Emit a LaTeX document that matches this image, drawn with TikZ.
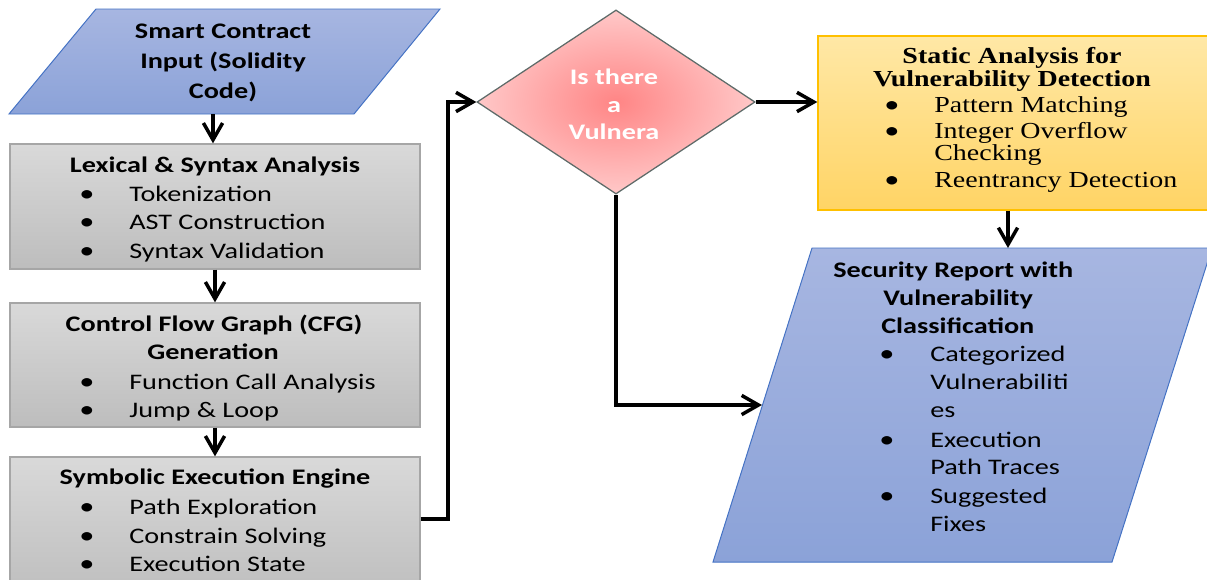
\documentclass[tikz,border=0pt]{standalone}
\usepackage{fontspec}
\usetikzlibrary{shapes.geometric,arrows.meta,calc}
\newfontfamily\cbfont[FakeStretch=1.27]{Carlito}
\newfontfamily\trfont[FakeStretch=1.22]{Liberation Serif}
\definecolor{blueA}{HTML}{A7B6E1}
\definecolor{blueB}{HTML}{8BA2D8}
\definecolor{blueE}{HTML}{4472C4}
\definecolor{grayA}{HTML}{D9D9D9}
\definecolor{grayB}{HTML}{BDBDBD}
\definecolor{grayE}{HTML}{A6A6A6}
\definecolor{pinkI}{HTML}{FF8585}
\definecolor{pinkO}{HTML}{FFC8C8}
\definecolor{pinkE}{HTML}{5E6B69}
\definecolor{goldA}{HTML}{FFE8A6}
\definecolor{goldB}{HTML}{FFD465}
\definecolor{goldE}{HTML}{FFC000}
\begin{document}
\begin{tikzpicture}[x=0.025cm,y=-0.025cm,
  graybox/.style={rectangle,draw=grayE,line width=0.9pt,top color=grayA,bottom color=grayB,inner sep=0pt,minimum width=10.25cm},
  goldbox/.style={rectangle,draw=goldE,line width=0.9pt,top color=goldA,bottom color=goldB,inner sep=0pt},
  decision/.style={diamond,draw=pinkE,line width=0.9pt,shading=radial,inner color=pinkI,outer color=pinkO,inner sep=0pt},
  inputshape/.style={draw=blueE,line width=0.7pt,top color=blueA,bottom color=blueB},
  arr/.style={line width=2.5pt,-{Straight Barb[length=0.42cm,width=0.48cm,line width=2.5pt]}},
  cfont/.style={font=\cbfont\fontsize{15.8}{19}\selectfont},
  ctitle/.style={font=\cbfont\bfseries\fontsize{15.8}{19}\selectfont},
  tfont/.style={font=\trfont\fontsize{16.3}{18}\selectfont},
  ttitle/.style={font=\trfont\bfseries\fontsize{16.3}{18}\selectfont},
  lbl/.style={inner sep=0pt,anchor=mid west,yshift=-2.8pt},
  clbl/.style={inner sep=0pt,anchor=mid,yshift=-2.8pt},
  bul/.style={inner sep=0pt,anchor=mid,yshift=-2.8pt,font=\cbfont\fontsize{17}{19}\selectfont}
]
\useasboundingbox (0,0) rectangle (1207,579);

% ---- input parallelogram
\path[inputshape] (96,9) -- (440,9) -- (354,114) -- (9,114) -- cycle;
\coordinate (scb) at (213,114);
\node[clbl,ctitle] (sc1) at (223,32) {Smart Contract};
\node[clbl,ctitle] (sc2) at (223,62) {Input (Solidity};
\node[clbl,ctitle] (sc3) at (223,92) {Code)};

% ---- gray boxes
\node[graybox,minimum height=3.125cm] (b1) at (215,206.5) {};
\node[graybox,minimum height=3.1cm] (b2) at (215,365) {};
\node[graybox,minimum height=3.575cm] (b3) at (215,528.5) {};

\node[clbl,ctitle] (b1t) at (215,166) {Lexical \& Syntax Analysis};
\node[bul] (b1b1) at (87,195) {•};
\node[bul] (b1b2) at (87,223) {•};
\node[bul] (b1b3) at (87,252) {•};
\node[lbl,cfont] (b1i1) at (129,195) {Tokenization};
\node[lbl,cfont] (b1i2) at (129,223) {AST Construction};
\node[lbl,cfont] (b1i3) at (129,252) {Syntax Validation};

\node[clbl,ctitle] (b2t1) at (214,325) {Control Flow Graph (CFG)};
\node[clbl,ctitle] (b2t2) at (213,353) {Generation};
\node[bul] (b2b1) at (87,383) {•};
\node[bul] (b2b2) at (87,411) {•};
\node[lbl,cfont] (b2i1) at (129,383) {Function Call Analysis};
\node[lbl,cfont] (b2i2) at (129,411) {Jump \& Loop};

\node[clbl,ctitle] (b3t) at (215,478) {Symbolic Execution Engine};
\node[bul] (b3b1) at (87,508) {•};
\node[bul] (b3b2) at (87,537) {•};
\node[bul] (b3b3) at (87,565) {•};
\node[lbl,cfont] (b3i1) at (129,508) {Path Exploration};
\node[lbl,cfont] (b3i2) at (129,537) {Constrain Solving};
\node[lbl,cfont] (b3i3) at (129,565) {Execution State};

% ---- decision
\node[decision,minimum width=6.95cm,minimum height=4.6cm] (d) at (616,102) {};
\node[clbl,ctitle,text=white] (d1) at (614,78) {Is there};
\node[clbl,ctitle,text=white] (d2) at (614,106) {a};
\node[clbl,ctitle,text=white] (d3) at (614,133) {Vulnera};

% ---- static analysis box
\node[goldbox,minimum width=9.925cm,minimum height=4.35cm] (st) at (1016.5,123) {};
\node[clbl,ttitle] (st1) at (1012,57) {Static Analysis for};
\node[clbl,ttitle] (st2) at (1012,80) {Vulnerability Detection};
\node[bul] (stb1) at (892,106) {•};
\node[bul] (stb2) at (892,132) {•};
\node[bul] (stb3) at (892,181) {•};
\node[lbl,tfont] (sti1) at (934,106) {Pattern Matching};
\node[lbl,tfont] (sti2) at (934,132) {Integer Overflow};
\node[lbl,tfont] (sti3) at (934,154) {Checking};
\node[lbl,tfont] (sti4) at (934,181) {Reentrancy Detection};

% ---- security report parallelogram
\path[inputshape] (812,248) -- (1212,248) -- (1112,562) -- (713,562) -- cycle;
\coordinate (sectop) at (1008,248);
\coordinate (secl) at (762,405);
\node[lbl,ctitle] (sr1) at (833,271) {Security Report with};
\node[lbl,ctitle] (sr2) at (883,299) {Vulnerability};
\node[lbl,ctitle] (sr3) at (881,327) {Classification};
\node[bul] (srb1) at (887,355) {•};
\node[bul] (srb2) at (887,441) {•};
\node[bul] (srb3) at (887,497) {•};
\node[lbl,cfont] (sri1) at (930,355) {Categorized};
\node[lbl,cfont] (sri2) at (930,383) {Vulnerabiliti};
\node[lbl,cfont] (sri3) at (930,411) {es};
\node[lbl,cfont] (sri4) at (930,441) {Execution};
\node[lbl,cfont] (sri5) at (930,468) {Path Traces};
\node[lbl,cfont] (sri6) at (930,497) {Suggested};
\node[lbl,cfont] (sri7) at (930,525) {Fixes};

% ---- connectors
\coordinate (j) at (448,519);
\draw[arr] (scb) -- (scb |- b1.north);
\draw[arr] (b1.south) -- (b2.north);
\draw[arr] (b2.south) -- (b3.north);
\draw[arr] (b3.east |- j) -- (j) -- (j |- d.west) -- (d.west);
\draw[arr] (d.east) -- (d.east -| st.west);
\draw[arr] (st.south -| sectop) -- (sectop);
\draw[arr] (d.south) -- (d.south |- secl) -- (secl);
\end{tikzpicture}
\end{document}
